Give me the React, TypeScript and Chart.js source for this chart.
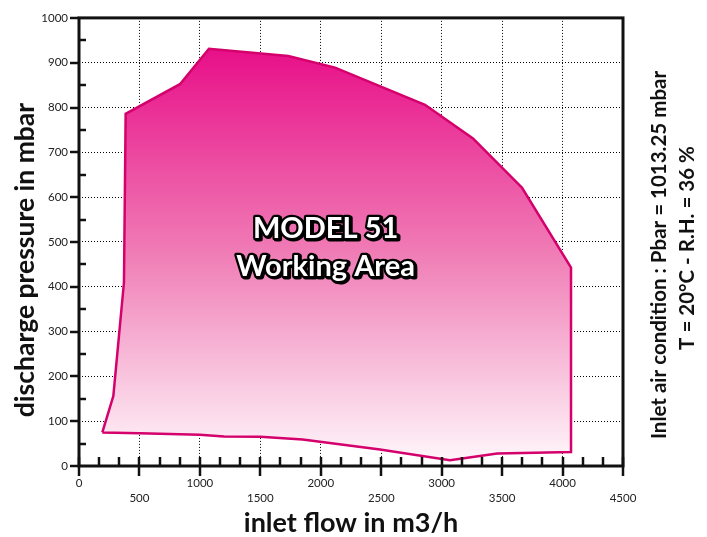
import React, { useEffect, useRef } from 'react';
import { Chart, registerables } from 'chart.js';

Chart.register(...registerables);

// Boundary of the working area (clockwise from lower-left), closed
const flowValues = [193, 284, 372, 386, 835, 1075, 1731, 2118, 2862, 3259, 3665, 4070, 4070, 3460, 3069, 2490, 1850, 1500, 1200, 1000, 500, 193];
const pressureValues = [75, 156, 410, 786, 852, 931, 915, 889, 806, 731, 621, 443, 31, 28, 13, 37, 59, 65, 66, 70, 73, 75];

const xMin = 0;
const xMax = 4500;
const xStep = 500;
const yMin = 0;
const yMax = 1000;
const yStep = 100;

const xTitle = 'inlet flow in m3/h';
const yTitle = 'discharge pressure in mbar';
const noteLines = ['Inlet air condition : Pbar = 1013.25 mbar', 'T = 20°C - R.H. = 36 %'];
const areaLabel = ['MODEL 51', 'Working Area'];
const areaLabelFlow = 2040;
const areaLabelPressure = [509, 425];

const FONT = 'Lato, "Noto Sans", sans-serif';

const decor = {
  id: 'decor',
  afterDatasetsDraw(chart: any) {
    const { ctx, scales } = chart;
    const x = scales.x;
    const y = scales.y;
    ctx.save();
    ctx.font = `bold 29px ${FONT}`;
    ctx.textAlign = 'center';
    ctx.textBaseline = 'alphabetic';
    ctx.lineJoin = 'round';
    areaLabel.forEach((t, i) => {
      const px = x.getPixelForValue(areaLabelFlow);
      const py = y.getPixelForValue(areaLabelPressure[i]);
      ctx.strokeStyle = '#000';
      ctx.lineWidth = 5;
      ctx.strokeText(t, px + 1.5, py + 1.5);
      ctx.lineWidth = 4.5;
      ctx.strokeText(t, px, py);
      ctx.fillStyle = '#fff';
      ctx.fillText(t, px, py);
    });
    ctx.restore();
  },
  afterDraw(chart: any) {
    const { ctx, chartArea: a, scales } = chart;
    const x = scales.x;
    const y = scales.y;
    ctx.save();
    ctx.strokeStyle = '#111';
    // frame
    ctx.lineWidth = 3;
    ctx.strokeRect(a.left, a.top, a.right - a.left, a.bottom - a.top);
    // x ticks: majors every 500, minors every 500/3
    ctx.lineWidth = 2.5;
    for (let k = 0; k <= (xMax - xMin) / (xStep / 3) + 0.001; k++) {
      const v = xMin + (k * xStep) / 3;
      const px = Math.round(x.getPixelForValue(v));
      ctx.beginPath();
      if (k % 3 === 0) {
        ctx.moveTo(px, a.bottom - 9);
        ctx.lineTo(px, a.bottom + 10);
      } else {
        ctx.moveTo(px, a.bottom - 9);
        ctx.lineTo(px, a.bottom);
      }
      ctx.stroke();
    }
    // y ticks: majors outside every 100, minors inside at the halves
    for (let v = yMin; v <= yMax; v += yStep / 2) {
      const py = Math.round(y.getPixelForValue(v));
      ctx.beginPath();
      if (v % yStep === 0) {
        ctx.moveTo(a.left - 9, py);
        ctx.lineTo(a.left, py);
      } else {
        ctx.moveTo(a.left, py);
        ctx.lineTo(a.left + 7, py);
      }
      ctx.stroke();
    }
    ctx.fillStyle = '#111';
    ctx.textAlign = 'center';
    ctx.textBaseline = 'alphabetic';
    // x title
    ctx.font = `bold 27px ${FONT}`;
    ctx.fillText(xTitle, (a.left + a.right) / 2, 532);
    // y title
    ctx.font = `bold 26.5px ${FONT}`;
    ctx.save();
    ctx.translate(34, 260);
    ctx.rotate(-Math.PI / 2);
    ctx.fillText(yTitle, 0, 0);
    ctx.restore();
    // right notes
    ctx.font = `bold 20.5px ${FONT}`;
    const noteX = [666, 694];
    const noteY = [255, 248];
    noteLines.forEach((t, i) => {
      ctx.save();
      ctx.translate(noteX[i], noteY[i]);
      ctx.rotate(-Math.PI / 2);
      ctx.fillText(t, 0, 0);
      ctx.restore();
    });
    ctx.restore();
  },
};

export default function App() {
  const ref = useRef<HTMLCanvasElement | null>(null);
  useEffect(() => {
    if (!ref.current) return;
    const data = flowValues.map((f, i) => ({ x: f, y: pressureValues[i] }));
    const chart = new Chart(ref.current, {
      type: 'line',
      data: {
        datasets: [
          {
            data,
            borderColor: '#D4006C',
            borderWidth: 2.5,
            pointRadius: 0,
            tension: 0,
            fill: 'shape',
            backgroundColor: (c: any) => {
              const ch = c.chart;
              if (!ch.chartArea) return '#F080B8';
              const ys = ch.scales.y;
              const g = ch.ctx.createLinearGradient(0, ys.getPixelForValue(935), 0, ys.getPixelForValue(10));
              g.addColorStop(0, '#E80E88');
              g.addColorStop(0.5, '#F07DB6');
              g.addColorStop(1, '#FFF6FA');
              return g;
            },
          } as any,
        ],
      },
      options: {
        animation: false,
        responsive: true,
        maintainAspectRatio: false,
        layout: { padding: { top: 12, right: 84, left: 0, bottom: 0 } },
        plugins: { legend: { display: false }, tooltip: { enabled: false } },
        scales: {
          x: {
            type: 'linear',
            min: xMin,
            max: xMax,
            afterFit: (s: any) => {
              s.height = 71;
            },
            ticks: {
              stepSize: xStep,
              autoSkip: false,
              maxRotation: 0,
              padding: 9.5,
              color: '#222',
              font: { family: FONT, size: 11.5, lineHeight: '15px' },
              callback: (v: any, i: number) => (i % 2 === 0 ? String(v) : ['', String(v)]),
            },
            grid: { color: '#000', lineWidth: 1, drawTicks: false },
            border: { display: false, dash: [1, 2] },
          },
          y: {
            type: 'linear',
            min: yMin,
            max: yMax,
            afterFit: (s: any) => {
              s.width = 79;
            },
            ticks: {
              stepSize: yStep,
              padding: 11,
              color: '#222',
              font: { family: FONT, size: 11.5 },
              callback: (v: any) => String(v),
            },
            grid: { color: '#000', lineWidth: 1, drawTicks: false },
            border: { display: false, dash: [1, 2] },
          },
        },
      } as any,
      plugins: [decor],
    });
    return () => chart.destroy();
  }, []);
  return (
    <div style={{ position: 'fixed', left: 0, top: 0, width: 707, height: 537, background: '#fff' }}>
      <canvas ref={ref} />
    </div>
  );
}
